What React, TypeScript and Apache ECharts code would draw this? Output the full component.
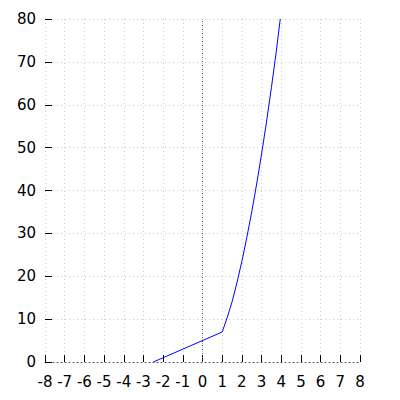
import React, { useEffect, useRef } from "react";
import * as echarts from "echarts";

const xTicks = [-8, -7, -6, -5, -4, -3, -2, -1, 0, 1, 2, 3, 4, 5, 6, 7, 8];
const yTicks = [0, 10, 20, 30, 40, 50, 60, 70, 80];
const curveX = [-2.5, 1, 1.25, 1.5, 1.75, 2, 2.25, 2.5, 2.75, 3, 3.25, 3.5, 3.75, 3.95];
const curveY = [0, 7, 10.3, 14, 18.5, 23.5, 29, 35, 41.5, 48.5, 56, 64, 72.5, 80];

export default function App() {
  const ref = useRef<HTMLDivElement>(null);
  useEffect(() => {
    if (!ref.current) return;
    const chart = echarts.init(ref.current, null, { renderer: "svg" });
    const font = "DejaVu Sans";
    chart.setOption({
      animation: false,
      backgroundColor: "#ffffff",
      textStyle: { fontFamily: font },
      grid: { left: 45, right: 40, top: 19, bottom: 38, containLabel: false },
      xAxis: {
        type: "value",
        min: xTicks[0],
        max: xTicks[xTicks.length - 1],
        interval: 1,
        axisLine: { show: true, onZero: false, lineStyle: { color: "#555", type: [1, 3], width: 1 } },
        axisTick: { show: true, inside: true, length: 7, lineStyle: { color: "#000", width: 1 } },
        axisLabel: { color: "#000", fontSize: 15, fontFamily: font, margin: 12 },
        splitLine: { show: true, lineStyle: { color: "#cccccc", type: [1, 3], width: 1 } },
      },
      yAxis: {
        type: "value",
        min: yTicks[0],
        max: yTicks[yTicks.length - 1],
        interval: 10,
        axisLine: { show: false, onZero: false },
        axisTick: { show: true, inside: true, length: 7, lineStyle: { color: "#000", width: 1 } },
        axisLabel: { color: "#000", fontSize: 15, fontFamily: font, margin: 9 },
        splitLine: { show: true, lineStyle: { color: "#cccccc", type: [1, 3], width: 1 } },
      },
      series: [
        {
          type: "line",
          data: curveX.map((x, i) => [x, curveY[i]]),
          showSymbol: false,
          smooth: false,
          lineStyle: { color: "#0000ff", width: 1 },
          itemStyle: { color: "#0000ff" },
          clip: true,
          silent: true,
          markLine: {
            silent: true,
            symbol: ["none", "none"],
            label: { show: false },
            lineStyle: { color: "#555", type: [1, 3], width: 1 },
            data: [{ xAxis: 0 }],
          },
        },
      ],
    });
    return () => chart.dispose();
  }, []);
  return <div ref={ref} style={{ position: "fixed", left: 0, top: 0, width: 400, height: 400 }} />;
}
